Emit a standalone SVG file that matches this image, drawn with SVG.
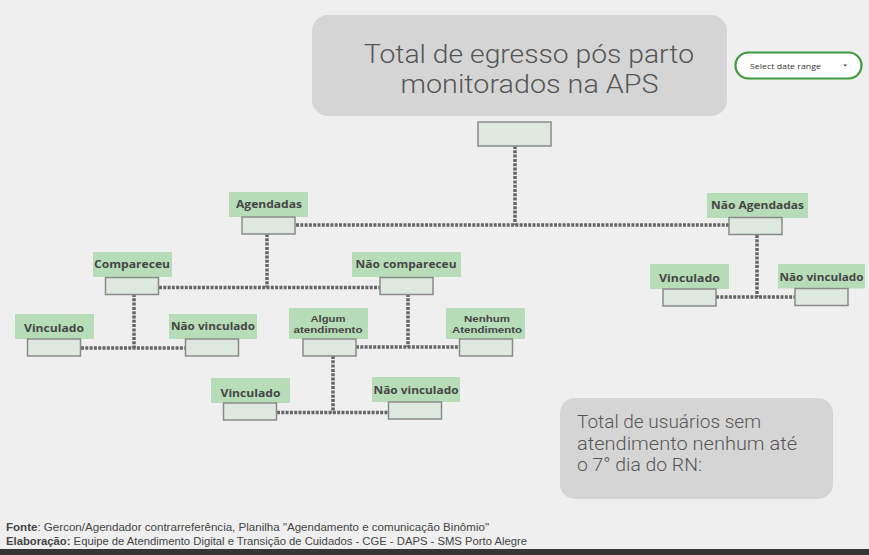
<svg xmlns="http://www.w3.org/2000/svg" width="869" height="555" viewBox="0 0 869 555">
<style>
.lbl{fill:#b7dcb8}
.val{fill:#dde9de;stroke:#8a8a8a;stroke-width:1.5}
.lt{font-family:"Open Sans","Liberation Sans",sans-serif;font-weight:700;font-size:11px;fill:#454545;text-anchor:middle}
.lt2{font-family:"Liberation Sans",sans-serif;font-weight:700;font-size:9.5px;fill:#454545;text-anchor:middle}
.con{fill:none;stroke:#666;stroke-width:3.5;stroke-dasharray:3 1.3}
.big{font-family:Roboto,"Liberation Sans",sans-serif;font-weight:300;fill:#555}
.foot{font-family:"Liberation Sans",sans-serif;font-size:10px;fill:#444}
</style>
<rect x="0" y="0" width="869" height="555" fill="#efefef"/>
<rect x="0" y="549" width="869" height="6" fill="#363636"/>

<g id="title">
<rect x="312" y="15" width="415" height="101" rx="16" fill="#d5d5d5"/>
<text class="big" font-size="25" x="529" y="63" text-anchor="middle" textLength="330" lengthAdjust="spacingAndGlyphs">Total de egresso pós parto</text>
<text class="big" font-size="25" x="529.5" y="93" text-anchor="middle" textLength="258" lengthAdjust="spacingAndGlyphs">monitorados na APS</text>
</g>

<g id="date-range">
<rect x="735.5" y="52.5" width="126" height="26" rx="13" fill="#fff" stroke="#3d9a3d" stroke-width="2.2"/>
<text x="750" y="68.5" font-family="'Open Sans','Liberation Sans',sans-serif" font-size="8" fill="#333" textLength="71" lengthAdjust="spacingAndGlyphs">Select date range</text>
<path d="M843.5 64.5 L847 64.5 L845.25 66.5 Z" fill="#333"/>
</g>

<g id="connectors">
<path class="con" d="M515 146 V225"/>
<path class="con" d="M296 225 H729"/>
<path class="con" d="M267 234 V287.5"/>
<path class="con" d="M159 287.5 H380"/>
<path class="con" d="M134 294 V348"/>
<path class="con" d="M81 348 H185"/>
<path class="con" d="M408 294 V347"/>
<path class="con" d="M356 347 H459"/>
<path class="con" d="M333 356 V412.5"/>
<path class="con" d="M277 412.5 H388"/>
<path class="con" d="M757 235 V297"/>
<path class="con" d="M716 297 H795"/>
</g>

<g id="total">
<rect class="val" x="478" y="122" width="73" height="24"/>
</g>

<g id="agendadas">
<rect class="lbl" x="229" y="192" width="79" height="25"/>
<text class="lt" x="269" y="208" textLength="66" lengthAdjust="spacingAndGlyphs">Agendadas</text>
<rect class="val" x="242" y="217" width="53" height="17"/>
</g>

<g id="nao-agendadas">
<rect class="lbl" x="707" y="193" width="101" height="25"/>
<text class="lt" x="757.5" y="209" textLength="93" lengthAdjust="spacingAndGlyphs">Não Agendadas</text>
<rect class="val" x="729" y="217.5" width="53" height="17"/>
</g>

<g id="compareceu">
<rect class="lbl" x="93" y="252" width="79" height="25"/>
<text class="lt" x="132" y="267.5" textLength="76" lengthAdjust="spacingAndGlyphs">Compareceu</text>
<rect class="val" x="105.5" y="277.5" width="53" height="17"/>
</g>

<g id="nao-compareceu">
<rect class="lbl" x="352" y="252" width="109" height="25"/>
<text class="lt" x="406" y="267.5" textLength="101" lengthAdjust="spacingAndGlyphs">Não compareceu</text>
<rect class="val" x="380" y="277.5" width="53" height="17"/>
</g>

<g id="vinculado-1">
<rect class="lbl" x="15" y="314" width="79" height="25"/>
<text class="lt" x="54" y="332" textLength="60" lengthAdjust="spacingAndGlyphs">Vinculado</text>
<rect class="val" x="27.5" y="339" width="53" height="17"/>
</g>

<g id="nao-vinculado-1">
<rect class="lbl" x="169" y="314" width="88" height="25"/>
<text class="lt" x="213" y="330" textLength="84" lengthAdjust="spacingAndGlyphs">Não vinculado</text>
<rect class="val" x="185.5" y="339" width="53" height="17"/>
</g>

<g id="algum-atendimento">
<rect class="lbl" x="289" y="308" width="79" height="31"/>
<text class="lt2" x="328" y="321.5" textLength="35" lengthAdjust="spacingAndGlyphs">Algum</text>
<text class="lt2" x="328" y="332.5" textLength="69" lengthAdjust="spacingAndGlyphs">atendimento</text>
<rect class="val" x="303" y="339" width="53" height="17"/>
</g>

<g id="nenhum-atendimento">
<rect class="lbl" x="446" y="308" width="79" height="31"/>
<text class="lt2" x="487" y="321.5" textLength="46" lengthAdjust="spacingAndGlyphs">Nenhum</text>
<text class="lt2" x="487" y="332.5" textLength="70" lengthAdjust="spacingAndGlyphs">Atendimento</text>
<rect class="val" x="459.5" y="339" width="53" height="17"/>
</g>

<g id="vinculado-2">
<rect class="lbl" x="211" y="378" width="79" height="25"/>
<text class="lt" x="250.5" y="396.5" textLength="60" lengthAdjust="spacingAndGlyphs">Vinculado</text>
<rect class="val" x="223.5" y="403" width="53" height="17"/>
</g>

<g id="nao-vinculado-2">
<rect class="lbl" x="372" y="377" width="88" height="25"/>
<text class="lt" x="416" y="393.5" textLength="85" lengthAdjust="spacingAndGlyphs">Não vinculado</text>
<rect class="val" x="388.5" y="402" width="53" height="17"/>
</g>

<g id="vinculado-3">
<rect class="lbl" x="650" y="264" width="79" height="25"/>
<text class="lt" x="689.5" y="281.5" textLength="61" lengthAdjust="spacingAndGlyphs">Vinculado</text>
<rect class="val" x="663" y="289" width="53" height="17"/>
</g>

<g id="nao-vinculado-3">
<rect class="lbl" x="778" y="264" width="87" height="24.5"/>
<text class="lt" x="821.5" y="280.5" textLength="84" lengthAdjust="spacingAndGlyphs">Não vinculado</text>
<rect class="val" x="795" y="288.5" width="53" height="17"/>
</g>

<g id="sem-atendimento">
<rect x="560" y="398" width="273" height="101" rx="15" fill="#d5d5d5"/>
<text class="big" font-size="18" x="577" y="428" textLength="184" lengthAdjust="spacingAndGlyphs">Total de usuários sem</text>
<text class="big" font-size="18" x="577" y="449.5" textLength="220" lengthAdjust="spacingAndGlyphs">atendimento nenhum até</text>
<text class="big" font-size="18" x="577" y="471" textLength="125" lengthAdjust="spacingAndGlyphs">o 7° dia do RN:</text>
</g>

<g id="footer">
<text class="foot" x="6" y="531" textLength="483" lengthAdjust="spacingAndGlyphs"><tspan font-weight="700">Fonte</tspan>: Gercon/Agendador contrarreferência, Planilha "Agendamento e comunicação Binômio"</text>
<text class="foot" x="6" y="545" textLength="521" lengthAdjust="spacingAndGlyphs"><tspan font-weight="700">Elaboração:</tspan> Equipe de Atendimento Digital e Transição de Cuidados - CGE - DAPS - SMS Porto Alegre</text>
</g>
</svg>
